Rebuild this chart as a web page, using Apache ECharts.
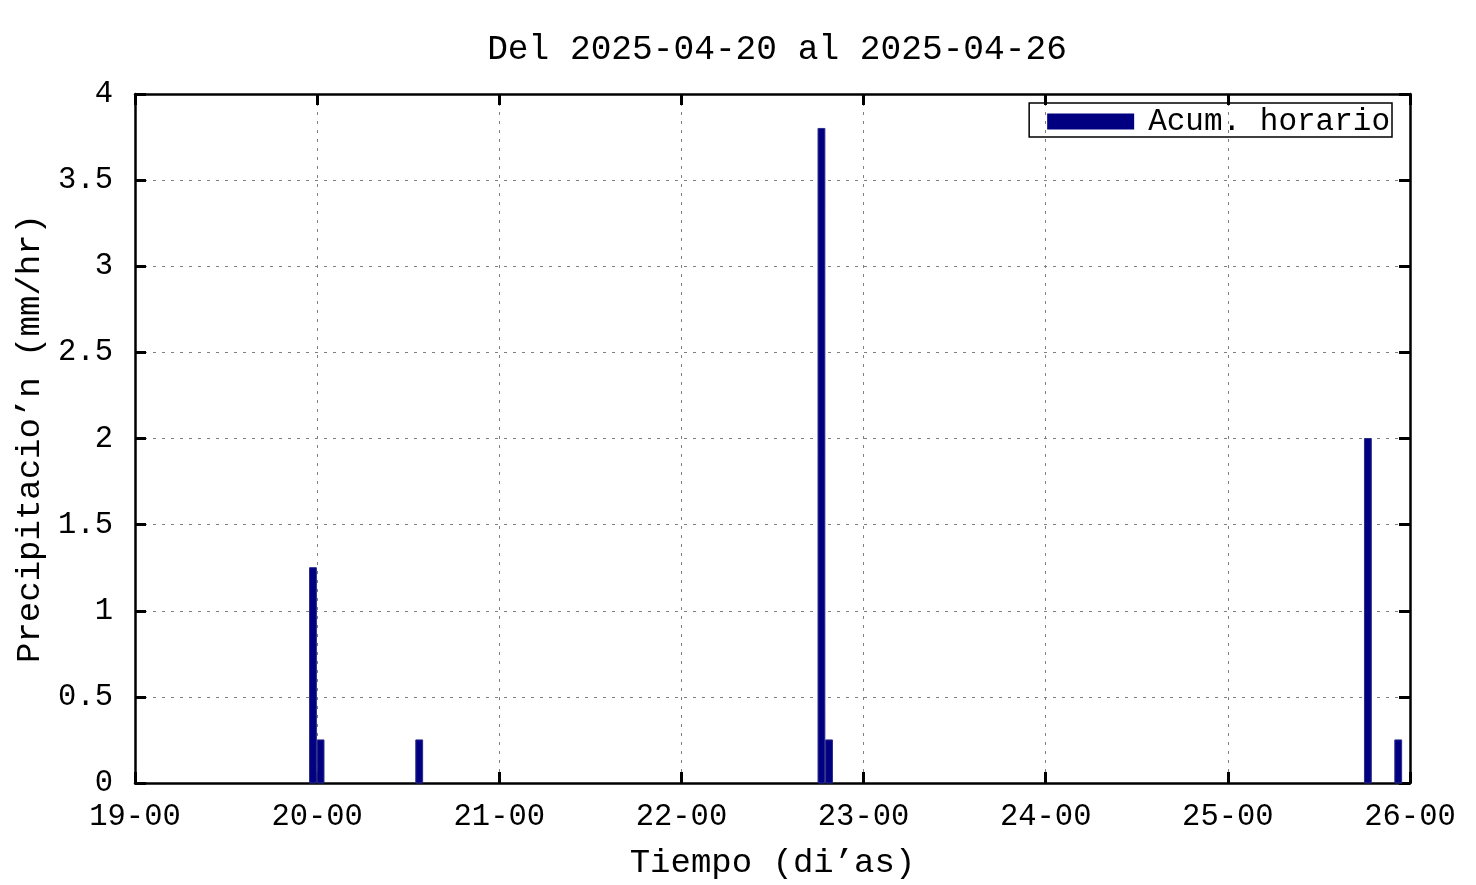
<!DOCTYPE html>
<html>
<head>
<meta charset="utf-8">
<script src="https://cdn.jsdelivr.net/npm/echarts@6/dist/echarts.min.js"></script>
<style>html,body{margin:0;padding:0;background:#fff}#c{width:1476px;height:885px}</style>
</head>
<body>
<div id="c"></div>
<script>
// ---- data ----
const titleText = 'Del 2025-04-20 al 2025-04-26';
const startDay = '2025-04-19 00:00';
const times = ['2025-04-19 23:00', '2025-04-20 00:00', '2025-04-20 13:00', '2025-04-22 18:00', '2025-04-22 19:00', '2025-04-25 18:00', '2025-04-25 22:00'];
const rain = [1.25, 0.25, 0.25, 3.8, 0.25, 2.0, 0.25];
const xTickLabels = ['19-00', '20-00', '21-00', '22-00', '23-00', '24-00', '25-00', '26-00'];
const yTicks = [0, 0.5, 1, 1.5, 2, 2.5, 3, 3.5, 4];
const seriesName = 'Acum. horario';

function parseT(s) {
  const [d, t] = s.split(' ');
  const [Y, M, D] = d.split('-').map(Number);
  const [h, m] = t.split(':').map(Number);
  return Date.UTC(Y, M - 1, D, h, m) / 3600000;
}
const t0 = parseT(startDay);
const data = times.map((t, i) => [parseT(t) - t0, rain[i]]);

const FONT = 'Liberation Mono';
const chart = echarts.init(document.getElementById('c'), null, {renderer: 'canvas'});
function tick() { return {show: true, inside: true, length: 11, lineStyle: {color: '#000', width: 3}}; }
function line() { return {show: true, onZero: false, lineStyle: {color: '#000', width: 2.5}}; }
const split = {show: true, lineStyle: {color: '#808080', type: [3, 6], width: 1}};
const xMax = (xTickLabels.length - 1) * 24;

chart.setOption({
  animation: false,
  title: {
    text: titleText, left: 772, top: 27, textAlign: 'center',
    textStyle: {fontFamily: FONT, fontSize: 34.5, fontWeight: 'normal', color: '#000'}
  },
  legend: {
    right: 84, top: 103,
    data: [{name: seriesName, icon: 'rect'}],
    itemWidth: 87, itemHeight: 16, itemGap: 0,
    padding: [3, 2, 0, 18],
    borderColor: '#000', borderWidth: 1.5,
    textStyle: {fontFamily: FONT, fontSize: 31, color: '#000', padding: [0, 0, 0, 9]}
  },
  grid: {left: 135, right: 66, top: 94, bottom: 100},
  xAxis: [{
    type: 'value', min: 0, max: xMax, interval: 24,
    name: 'Tiempo (di\u2019as)', nameLocation: 'middle', nameGap: 63,
    nameTextStyle: {fontFamily: FONT, fontSize: 34, color: '#000'},
    axisLine: line(),
    axisTick: tick(),
    axisLabel: {fontFamily: FONT, fontSize: 30.5, color: '#000', margin: 18,
      formatter: v => xTickLabels[Math.round(v / 24)]},
    splitLine: split
  }, {
    type: 'value', min: 0, max: xMax, interval: 24, position: 'top',
    axisLine: line(),
    axisTick: tick(), axisLabel: {show: false}, splitLine: {show: false}
  }],
  yAxis: [{
    type: 'value', min: yTicks[0], max: yTicks[yTicks.length - 1], interval: 0.5,
    name: 'Precipitacio\u2019n (mm/hr)', nameLocation: 'middle', nameGap: 88,
    nameTextStyle: {fontFamily: FONT, fontSize: 34, color: '#000'},
    axisLine: line(),
    axisTick: tick(),
    axisLabel: {fontFamily: FONT, fontSize: 30.5, color: '#000', margin: 22},
    splitLine: split
  }, {
    type: 'value', min: yTicks[0], max: yTicks[yTicks.length - 1], interval: 0.5, position: 'right',
    axisLine: line(),
    axisTick: tick(), axisLabel: {show: false}, splitLine: {show: false}
  }],
  series: [{
    name: seriesName,
    type: 'custom',
    itemStyle: {color: '#000080'},
    data: data,
    encode: {x: 0, y: 1},
    renderItem: function (params, api) {
      const x = api.value(0), v = api.value(1);
      const p0 = api.coord([x, 0]);
      const p1 = api.coord([x + 0.9, v]);
      return {
        type: 'rect',
        shape: {x: p0[0], y: p1[1], width: p1[0] - p0[0], height: p0[1] - p1[1]},
        style: {fill: '#000080', stroke: '#2a2a8a', lineWidth: 1}
      };
    }
  }]
});
</script>
</body>
</html>
